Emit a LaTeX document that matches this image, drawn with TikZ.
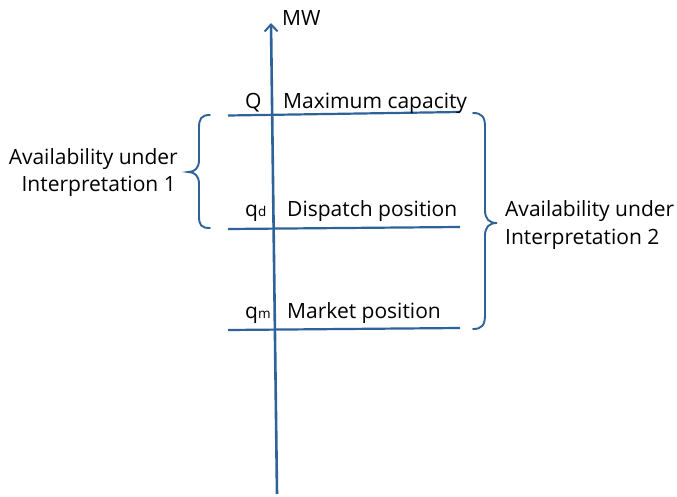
\documentclass[tikz,border=0pt]{standalone}
\usepackage{fontspec}
\setmainfont{Open Sans}
\usetikzlibrary{arrows.meta}
\definecolor{axblue}{HTML}{2E6299}
\begin{document}
\begin{tikzpicture}[x=1pt,y=-1pt,
  axis/.style={draw=axblue,line width=2.6pt},
  level/.style={draw=axblue,line width=2.2pt},
  brc/.style={draw=axblue,line width=1.9pt,line cap=round},
  lbl/.style={font=\fontsize{21}{27}\selectfont,inner sep=0pt,text=black}]
\useasboundingbox (0,0) rectangle (677,497);
% axis
\coordinate (axb) at (277,494);
\coordinate (axt) at (271,23);
\draw[axis,-{Straight Barb[length=7pt,width=13pt,line width=2pt]}] (axb) -- (axt);
\node[lbl,anchor=base west] (mw) at (282,26) {MW};
% levels
\coordinate (q1) at (228,115.5); \coordinate (q2) at (460,112);
\coordinate (d1) at (228,229); \coordinate (d2) at (460,227);
\coordinate (m1) at (228,330); \coordinate (m2) at (460,328);
\draw[level] (q1) -- (q2);
\draw[level] (d1) -- (d2);
\draw[level] (m1) -- (m2);
% labels
\node[lbl,anchor=base west] (Q) at (245,109) {Q};
\node[lbl,anchor=base west] (maxc) at (283,109) {Maximum capacity};
\node[lbl,anchor=base west] (qd) at (245,217) {q{\fontsize{13.5}{15}\selectfont d}};
\node[lbl,anchor=base west] (disp) at (287,217) {Dispatch position};
\node[lbl,anchor=base west] (qm) at (245,318) {q{\fontsize{13.5}{15}\selectfont m}};
\node[lbl,anchor=base west] (mkt) at (287,318) {Market position};
% left brace
\draw[brc] (210,115) .. controls (201,115) and (199,119) .. (199,128)
  -- (199,160) .. controls (199,168) and (195,172) .. (188,172)
  .. controls (195,172) and (199,176) .. (199,184)
  -- (199,216) .. controls (199,225) and (201,228) .. (210,228);
\node[lbl,anchor=base east] (l1) at (178,165) {Availability under};
\node[lbl,anchor=base east] (l2) at (176,192) {Interpretation 1};
% right brace
\draw[brc] (473,113) .. controls (482,113) and (485,117) .. (485,127)
  -- (485,210) .. controls (485,219) and (489,223) .. (497,223)
  .. controls (489,223) and (485,227) .. (485,236)
  -- (485,315) .. controls (485,325) and (482,329) .. (473,329);
\node[lbl,anchor=base west] (r1) at (505,217) {Availability under};
\node[lbl,anchor=base west] (r2) at (505,244) {Interpretation 2};
\end{tikzpicture}
\end{document}
